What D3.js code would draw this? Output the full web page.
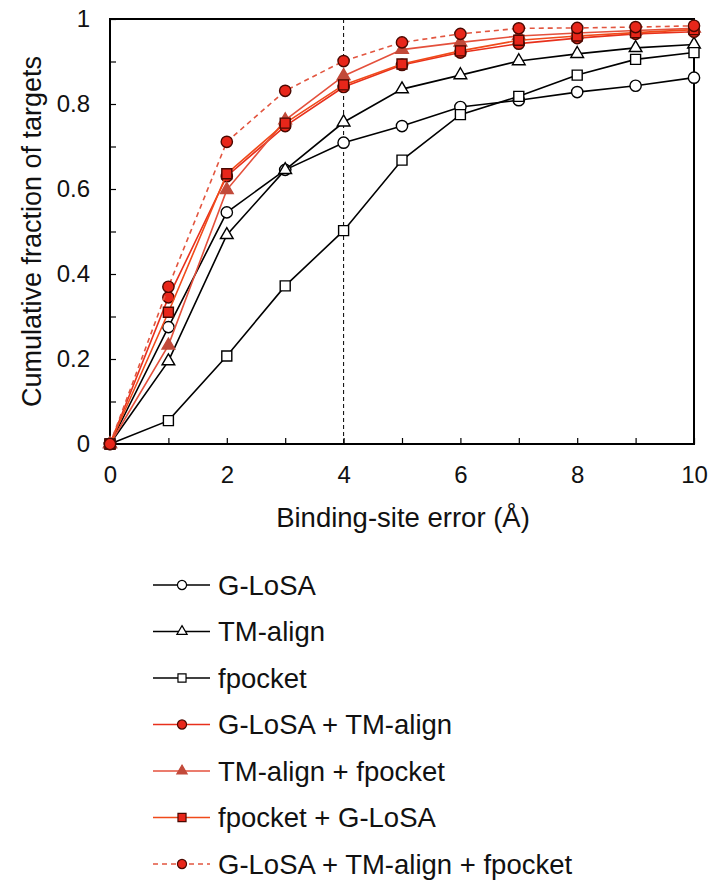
<!DOCTYPE html>
<head>
    <meta charset='utf-8'>
    <title>Binding-site error</title>
    <script src='https://d3js.org/d3.v7.min.js'></script>
    <style>
        html, body {
            margin: 0px;
            padding: 0px;
            background: white;
        }
        svg {
            font-family: 'Liberation Sans', Arial, sans-serif;
        }
    </style>
</head>
<body>
    <svg id='chart' width='711' height='882'></svg>

    <script>
        // values
        var errors = [0, 1, 2, 3, 4, 5, 6, 7, 8, 9, 10];
        var gLosa = [0, 0.275, 0.545, 0.645, 0.709, 0.748, 0.793, 0.809, 0.828, 0.843, 0.862];
        var tmAlign = [0, 0.195, 0.492, 0.645, 0.757, 0.835, 0.868, 0.901, 0.918, 0.932, 0.940];
        var fpocket = [0, 0.055, 0.207, 0.372, 0.502, 0.668, 0.775, 0.818, 0.868, 0.905, 0.921];
        var gLosaTm = [0, 0.345, 0.630, 0.748, 0.840, 0.892, 0.921, 0.942, 0.955, 0.965, 0.970];
        var tmFpocket = [0, 0.232, 0.598, 0.762, 0.866, 0.928, 0.945, 0.960, 0.967, 0.973, 0.978];
        var fpocketGlosa = [0, 0.310, 0.636, 0.755, 0.845, 0.894, 0.925, 0.950, 0.960, 0.968, 0.975];
        var allThree = [0, 0.370, 0.711, 0.831, 0.901, 0.945, 0.965, 0.978, 0.979, 0.981, 0.984];

        var yTicks = [0, 0.2, 0.4, 0.6, 0.8, 1];
        var xTicks = [0, 2, 4, 6, 8, 10];

        var series = [
            {name: 'G-LoSA', values: gLosa, line: '#000', dash: null, shape: d3.symbolCircle, size: 100, fill: '#fff', stroke: '#000'},
            {name: 'TM-align', values: tmAlign, line: '#000', dash: null, shape: d3.symbolTriangle, size: 70, fill: '#fff', stroke: '#000'},
            {name: 'fpocket', values: fpocket, line: '#000', dash: null, shape: d3.symbolSquare, size: 100, fill: '#fff', stroke: '#000'},
            {name: 'G-LoSA + TM-align', values: gLosaTm, line: '#e8301c', dash: null, shape: d3.symbolCircle, size: 100, fill: '#e8261a', stroke: '#4a0800'},
            {name: 'TM-align + fpocket', values: tmFpocket, line: '#e4503c', dash: null, shape: d3.symbolTriangle, size: 70, fill: '#c24a3a', stroke: '#c24a3a'},
            {name: 'fpocket + G-LoSA', values: fpocketGlosa, line: '#f04a1a', dash: null, shape: d3.symbolSquare, size: 100, fill: '#e8261a', stroke: '#4a0800'},
            {name: 'G-LoSA + TM-align + fpocket', values: allThree, line: '#e2553f', dash: '5,4', shape: d3.symbolCircle, size: 100, fill: '#e8261a', stroke: '#4a0800'}
        ];

        var svg = d3.select('#chart');

        var x = d3.scaleLinear().domain([0, 10]).range([110, 694]);
        var y = d3.scaleLinear().domain([0, 1]).range([444, 19]);

        // frame
        svg.append('rect')
            .attr('x', x(0)).attr('y', y(1))
            .attr('width', x(10) - x(0)).attr('height', y(0) - y(1))
            .attr('fill', 'none').attr('stroke', '#000').attr('stroke-width', 2);

        // inward minor ticks
        var yMinor = svg.append('g').attr('transform', 'translate(' + x(0) + ',0)')
            .call(d3.axisLeft(y).tickValues(d3.range(0, 1.01, 0.1)).tickSize(-6).tickFormat(''));
        var xMinor = svg.append('g').attr('transform', 'translate(0,' + y(0) + ')')
            .call(d3.axisBottom(x).tickValues(errors).tickSize(-6).tickFormat(''));
        [yMinor, xMinor].forEach(function(g){
            g.select('.domain').remove();
            g.selectAll('line').attr('stroke', '#000').attr('stroke-width', 1.2);
        });

        // labels
        var yLab = svg.append('g').attr('transform', 'translate(' + x(0) + ',0)')
            .call(d3.axisLeft(y).tickValues(yTicks).tickSize(0).tickPadding(20).tickFormat(d3.format('')));
        var xLab = svg.append('g').attr('transform', 'translate(0,' + y(0) + ')')
            .call(d3.axisBottom(x).tickValues(xTicks).tickSize(0).tickPadding(22).tickFormat(d3.format('')));
        [yLab, xLab].forEach(function(g){
            g.select('.domain').remove();
            g.selectAll('text').attr('font-size', 24).attr('font-family', "'Liberation Sans', Arial, sans-serif").attr('fill', '#111');
        });

        // dashed reference line at 4 A
        svg.append('line')
            .attr('x1', x(4)).attr('x2', x(4))
            .attr('y1', y(1)).attr('y2', y(0))
            .attr('stroke', '#000').attr('stroke-width', 1)
            .attr('stroke-dasharray', '4,3');

        var line = d3.line()
            .x(function(d, i){ return x(errors[i]); })
            .y(function(d){ return y(d); });

        series.forEach(function(s){
            var g = svg.append('g');
            g.append('path')
                .attr('d', line(s.values))
                .attr('fill', 'none')
                .attr('stroke', s.line)
                .attr('stroke-width', 1.6)
                .attr('stroke-dasharray', s.dash);
            g.selectAll('path.pt')
                .data(s.values)
                .enter()
                .append('path')
                .attr('class', 'pt')
                .attr('transform', function(d, i){ return 'translate(' + x(errors[i]) + ',' + y(d) + ')'; })
                .attr('d', d3.symbol().type(s.shape).size(s.size))
                .attr('fill', s.fill)
                .attr('stroke', s.stroke)
                .attr('stroke-width', 1.4);
        });

        // axis titles
        svg.append('text')
            .attr('x', 403).attr('y', 527)
            .attr('text-anchor', 'middle')
            .attr('font-size', 27.5)
            .attr('fill', '#111')
            .text('Binding-site error (Å)');

        svg.append('text')
            .attr('transform', 'translate(41,' + y(0.5) + ') rotate(-90)')
            .attr('text-anchor', 'middle')
            .attr('font-size', 27)
            .attr('fill', '#111')
            .text('Cumulative fraction of targets');

        // legend
        var ly = d3.scalePoint().domain(series.map(function(s){ return s.name; })).range([585, 864]);
        var legend = svg.selectAll('g.legend')
            .data(series)
            .enter()
            .append('g')
            .attr('class', 'legend')
            .attr('transform', function(s){ return 'translate(0,' + ly(s.name) + ')'; });

        legend.append('line')
            .attr('x1', 153).attr('x2', 210)
            .attr('stroke', function(s){ return s.line; })
            .attr('stroke-width', 1.6)
            .attr('stroke-dasharray', function(s){ return s.dash; });
        legend.append('path')
            .attr('transform', 'translate(182,0)')
            .attr('d', function(s){ return d3.symbol().type(s.shape).size(s.size * 0.65)(); })
            .attr('fill', function(s){ return s.fill; })
            .attr('stroke', function(s){ return s.stroke; })
            .attr('stroke-width', 1.2);
        legend.append('text')
            .attr('x', 218).attr('dy', '0.36em')
            .attr('font-size', 27.5)
            .attr('fill', '#111')
            .text(function(s){ return s.name; });
    </script>
</body>
